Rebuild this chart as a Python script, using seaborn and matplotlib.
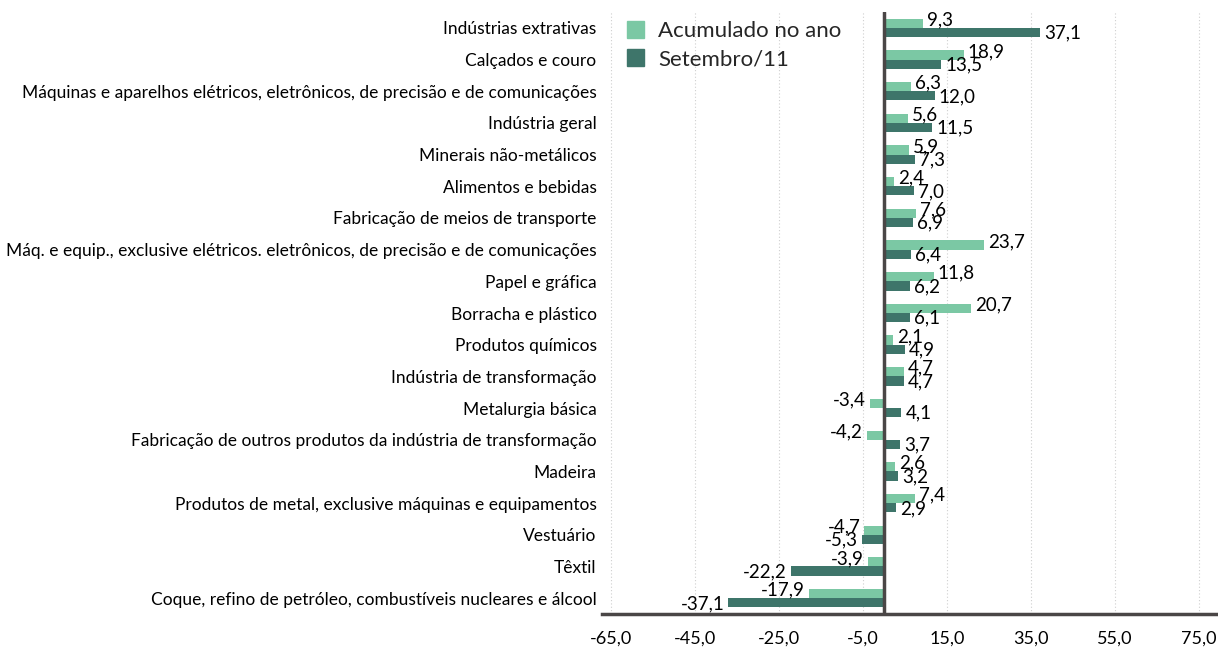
import matplotlib.pyplot as plt
import pandas as pd
import seaborn as sns
from matplotlib.patches import Patch
from matplotlib.ticker import FuncFormatter

categories = [
    "Indústrias extrativas",
    "Calçados e couro",
    "Máquinas e aparelhos elétricos, eletrônicos, de precisão e de comunicações",
    "Indústria geral",
    "Minerais não-metálicos",
    "Alimentos e bebidas",
    "Fabricação de meios de transporte",
    "Máq. e equip., exclusive elétricos. eletrônicos, de precisão e de comunicações",
    "Papel e gráfica",
    "Borracha e plástico",
    "Produtos químicos",
    "Indústria de transformação",
    "Metalurgia básica",
    "Fabricação de outros produtos da indústria de transformação",
    "Madeira",
    "Produtos de metal, exclusive máquinas e equipamentos",
    "Vestuário",
    "Têxtil",
    "Coque, refino de petróleo, combustíveis nucleares e álcool",
]
acumulado = [9.3, 18.9, 6.3, 5.6, 5.9, 2.4, 7.6, 23.7, 11.8, 20.7,
             2.1, 4.7, -3.4, -4.2, 2.6, 7.4, -4.7, -3.9, -17.9]
setembro = [37.1, 13.5, 12.0, 11.5, 7.3, 7.0, 6.9, 6.4, 6.2, 6.1,
            4.9, 4.7, 4.1, 3.7, 3.2, 2.9, -5.3, -22.2, -37.1]
series = ["Acumulado no ano", "Setembro/11"]
xticks = [-65, -45, -25, -5, 15, 35, 55, 75]

LIGHT, DARK, AXIS = "#7BC8A4", "#3E756A", "#4A4646"

sns.set_theme(style="white")
plt.rcParams["font.family"] = ["Lato", "DejaVu Sans"]
plt.rcParams["axes.unicode_minus"] = False

df = pd.DataFrame({
    "categoria": categories * 2,
    "valor": acumulado + setembro,
    "serie": [series[0]] * len(categories) + [series[1]] * len(categories),
})


def br(v):
    return f"{v:.1f}".replace(".", ",")


fig = plt.figure(figsize=(12.18, 6.51), dpi=100)
ax = fig.add_axes([0.4943, 0.0568, 0.5057, 0.9248])
sns.barplot(
    data=df, y="categoria", x="valor", hue="serie", order=categories,
    hue_order=series, palette=[LIGHT, DARK], saturation=1, width=0.58,
    orient="h", legend=False, ax=ax, linewidth=0,
)

# value labels; the light series sits a little higher, the dark a little lower
for cont, vals, dy in zip(ax.containers, [acumulado, setembro], [2.5, -0.5]):
    anns = ax.bar_label(cont, labels=[br(v) for v in vals], padding=3,
                        fontsize=13.5, color="black")
    for a in anns:
        x0, y0 = a.xyann
        a.xyann = (x0, y0 + dy)

ax.set_xlim(-67.2, 79.5)
ax.set_ylim(len(categories) - 0.5, -0.5)
ax.set_xticks(xticks)
ax.xaxis.set_major_formatter(FuncFormatter(lambda v, p: br(v)))
ax.tick_params(axis="x", length=0, pad=12, labelsize=13, labelcolor="black")
ax.tick_params(axis="y", length=0, pad=4, labelsize=12.5, labelcolor="black")
ax.set_xlabel("")
ax.set_ylabel("")
ax.grid(axis="x", color="#CFCFCF", linestyle=(0, (1, 2)), linewidth=0.8)
ax.set_axisbelow(True)
for s in ["top", "right", "left"]:
    ax.spines[s].set_visible(False)
ax.spines["bottom"].set_color(AXIS)
ax.spines["bottom"].set_linewidth(2.5)
ax.axvline(0, color=AXIS, linewidth=2.5, zorder=3)

handles = [Patch(color=LIGHT), Patch(color=DARK)]
ax.legend(handles, series, loc="upper left", bbox_to_anchor=(0.04, 0.985),
          frameon=False, fontsize=16, handlelength=0.8, handleheight=0.8,
          handletextpad=0.6, labelspacing=0.35, borderpad=0, borderaxespad=0)

fig.savefig("out.png", dpi=100)
